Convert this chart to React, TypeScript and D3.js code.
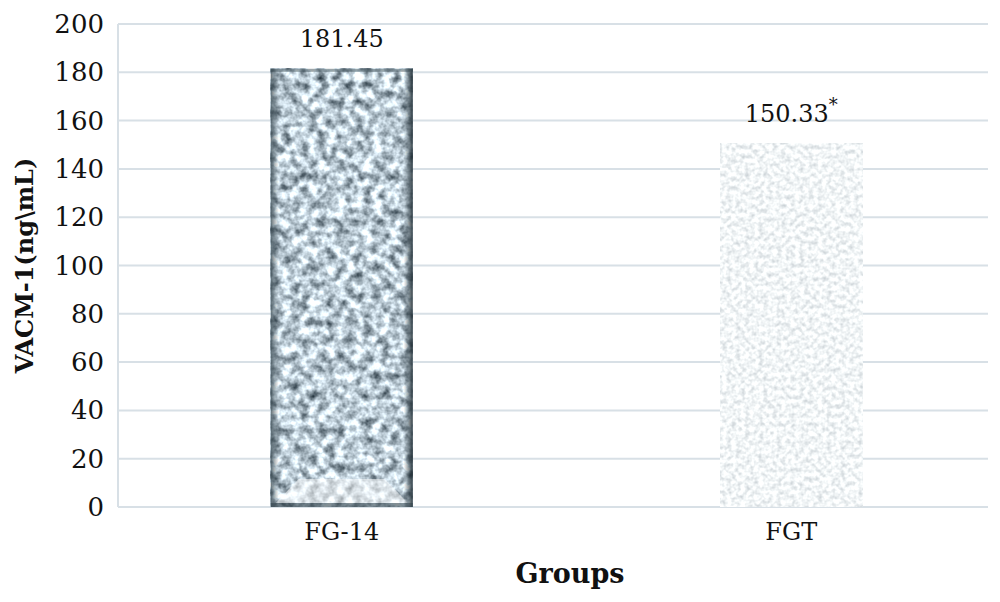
import * as d3 from "d3";

const categories = ["FG-14", "FGT"];
const values = [181.45, 150.33];
const valueLabels = ["181.45", "150.33"];
const significance = ["", "*"];
const yTicks = [0, 20, 40, 60, 80, 100, 120, 140, 160, 180, 200];

const W = 1000;
const H = 602;
const FONT = "'DejaVu Serif', 'Liberation Serif', serif";
const GRID = "#d8e0e6";

export default function App() {
  const left = 118;
  const gridRight = 988;
  const top = 24;
  const bottom = 507;

  const x = d3.scaleBand<string>().domain(categories).range([117, 1016]).paddingInner(0.684).paddingOuter(0.342);
  const y = d3.scaleLinear().domain([0, 200]).range([bottom, top]);
  const bw = x.bandwidth();

  return (
    <svg width={W} height={H} style={{ position: "absolute", left: 0, top: 0, background: "#fff" }}>
      <defs>
        <filter id="noiseDark" x="0" y="0" width="1" height="1" colorInterpolationFilters="sRGB">
          <feTurbulence type="fractalNoise" baseFrequency="0.11" numOctaves="3" seed="7" result="n" />
          <feColorMatrix
            in="n"
            type="matrix"
            values="1.3 0 0 0 0.08  1.3 0 0 0 0.14  1.3 0 0 0 0.18  0 0 0 0 1"
          />
        </filter>
        <filter id="noiseLight" x="0" y="0" width="1" height="1" colorInterpolationFilters="sRGB">
          <feTurbulence type="fractalNoise" baseFrequency="0.22" numOctaves="2" seed="11" result="n" />
          <feColorMatrix
            in="n"
            type="matrix"
            values="0.38 0 0 0 0.76  0.35 0 0 0 0.79  0.32 0 0 0 0.81  0 0 0 0 1"
          />
        </filter>
        <linearGradient id="edgeL" x1="0" x2="1" y1="0" y2="0">
          <stop offset="0" stopColor="#2f3f47" stopOpacity="0.75" />
          <stop offset="1" stopColor="#2f3f47" stopOpacity="0" />
        </linearGradient>
        <linearGradient id="edgeR" x1="1" x2="0" y1="0" y2="0">
          <stop offset="0" stopColor="#1f2c33" stopOpacity="0.9" />
          <stop offset="1" stopColor="#1f2c33" stopOpacity="0" />
        </linearGradient>
      </defs>

      {/* grid */}
      {yTicks.map((t) => (
        <line key={t} x1={left} x2={gridRight} y1={y(t)} y2={y(t)} stroke={GRID} strokeWidth={2} />
      ))}
      <line x1={left} x2={left} y1={top} y2={bottom} stroke={GRID} strokeWidth={2} />

      {/* y ticks */}
      {yTicks.map((t) => (
        <text key={t} x={104} y={y(t) + 9} textAnchor="end" fontFamily={FONT} fontSize={26} fill="#111">
          {t}
        </text>
      ))}

      {/* bars */}
      {categories.map((c, i) => {
        const x0 = x(c) ?? 0;
        const x1 = x0 + bw;
        const y1 = y(values[i]);
        const h = bottom - y1;
        if (i === 0) {
          return (
            <g key={c}>
              <rect x={x0} y={y1} width={bw} height={h} fill="#8ea2ac" />
              <rect x={x0} y={y1} width={bw} height={h} filter="url(#noiseDark)" />
              <polygon
                points={`${x0 + 5},${bottom - 4} ${x1 - 5},${bottom - 4} ${x1 - 28},${bottom - 28} ${x0 + 28},${bottom - 28}`}
                fill="#ffffff"
                opacity={0.5}
              />
              <rect x={x0} y={y1} width={8} height={h} fill="url(#edgeL)" />
              <rect x={x1 - 9} y={y1} width={9} height={h} fill="url(#edgeR)" />
              <rect x={x0} y={y1} width={bw} height={3} fill="#3a4b53" opacity={0.5} />
              <rect x={x0} y={bottom - 4} width={bw} height={4} fill="#33444c" opacity={0.6} />
            </g>
          );
        }
        return (
          <g key={c}>
            <rect x={x0} y={y1} width={bw} height={h} fill="#eef3f5" />
            <rect x={x0} y={y1} width={bw} height={h} filter="url(#noiseLight)" />
          </g>
        );
      })}

      {/* value labels */}
      {categories.map((c, i) => {
        const cx = (x(c) ?? 0) + bw / 2;
        return (
          <text key={c} x={cx} y={y(values[i]) - 22} textAnchor="middle" fontFamily={FONT} fontSize={24} fill="#111">
            {valueLabels[i]}
            {significance[i] && (
              <tspan dy={-11} fontSize={18}>
                {significance[i]}
              </tspan>
            )}
          </text>
        );
      })}

      {/* category labels */}
      {categories.map((c) => (
        <text
          key={c}
          x={(x(c) ?? 0) + bw / 2}
          y={540}
          textAnchor="middle"
          fontFamily={FONT}
          fontSize={24}
          fill="#111"
        >
          {c}
        </text>
      ))}

      {/* axis titles */}
      <text
        transform={`translate(33,${(top + bottom) / 2}) rotate(-90)`}
        textAnchor="middle"
        fontFamily={FONT}
        fontSize={24}
        fontWeight="bold"
        fill="#111"
      >
        VACM-1(ng\mL)
      </text>
      <text x={570} y={583} textAnchor="middle" fontFamily={FONT} fontSize={27} fontWeight="bold" fill="#111">
        Groups
      </text>
    </svg>
  );
}
